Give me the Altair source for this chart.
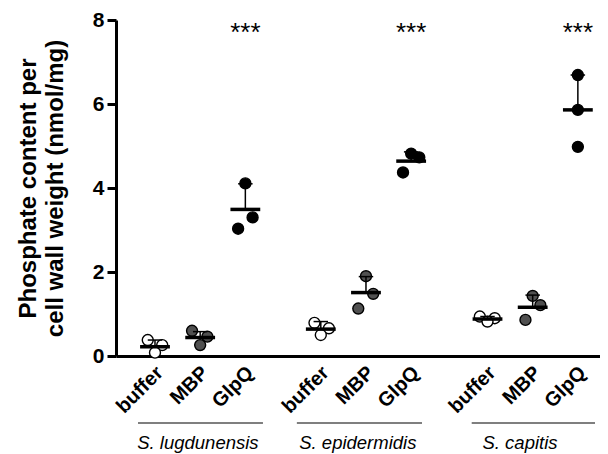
import altair as alt
import pandas as pd

# ---- data ----
positions = [0, 1, 2, 3.67, 4.67, 5.67, 7.36, 8.36, 9.36]
treatments = ["buffer", "MBP", "GlpQ"] * 3
species = ["S. lugdunensis"] * 3 + ["S. epidermidis"] * 3 + ["S. capitis"] * 3

rep_values = [
    [0.38, 0.26, 0.08],
    [0.60, 0.46, 0.26],
    [4.11, 3.30, 3.03],
    [0.79, 0.66, 0.50],
    [1.90, 1.48, 1.13],
    [4.82, 4.73, 4.37],
    [0.94, 0.90, 0.82],
    [1.43, 1.21, 0.86],
    [6.69, 5.86, 4.98],
]
rep_jitter = [
    [-0.16, 0.16, 0.0],
    [-0.18, 0.16, 0.0],
    [0.0, 0.16, -0.16],
    [-0.14, 0.18, 0.0],
    [0.0, 0.16, -0.17],
    [0.0, 0.18, -0.18],
    [-0.17, 0.16, 0.0],
    [0.0, 0.17, -0.16],
    [0.0, 0.0, 0.0],
]
means = [0.22, 0.44, 3.49, 0.64, 1.51, 4.64, 0.88, 1.16, 5.86]
upper = [0.38, 0.58, 4.10, 0.82, 1.89, 4.86, 0.94, 1.45, 6.69]
stars = ["", "", "***", "", "", "***", "", "", "***"]
star_level = 7.69
tick_label_level = -0.33
tick_label_angle = 315

group_names = ["S. lugdunensis", "S. epidermidis", "S. capitis"]
group_start = [-0.376, 3.14, 7.01]
group_end = [2.39, 5.91, 9.74]
group_label_x = [0.95, 4.49, 8.08]
group_line_level = -1.595
group_label_level = -2.07

y_ticks = [0, 2, 4, 6, 8]
y_title = ["Phosphate content per", "cell wall weight (nmol/mg)"]

# ---- tables ----
pts = pd.DataFrame(
    [
        {"x": positions[i] + rep_jitter[i][j], "value": rep_values[i][j],
         "treatment": treatments[i], "species": species[i]}
        for i in range(len(positions)) for j in range(3)
    ]
)
summ = pd.DataFrame({"pos": positions, "mean": means, "upper": upper,
                     "treatment": treatments, "stars": stars})
summ["star_y"] = star_level
summ["lab_y"] = tick_label_level
summ["lab_angle"] = tick_label_angle
grp = pd.DataFrame({"name": group_names, "start": group_start, "end": group_end,
                    "lx": group_label_x})
grp["line_y"] = group_line_level
grp["label_y"] = group_label_level

FONT = "Liberation Sans"
x_scale = alt.Scale(domain=[-0.863, 9.85], nice=False, zero=False)
y_scale = alt.Scale(domain=[0, 8], nice=False, zero=False)

x_axis = alt.Axis(
    values=positions, labels=False, ticks=False,
    domainWidth=3, domainColor="black", grid=False, title=None,
)
y_axis = alt.Axis(
    values=y_ticks, format="d", tickSize=9, tickWidth=3, tickColor="black",
    domainWidth=3, domainColor="black", labelFont=FONT, labelFontSize=21,
    labelFontWeight="bold", labelColor="black", labelPadding=3, grid=False,
    title=y_title, titleFont=FONT, titleFontSize=24, titleFontWeight="bold",
    titleColor="black", titlePadding=25, titleLineHeight=27,
)


def X(field):
    return alt.X(field, scale=x_scale, axis=x_axis)


def Y(field):
    return alt.Y(field, scale=y_scale, axis=y_axis)


points = alt.Chart(pts).mark_point(
    filled=True, shape="circle", size=120, stroke="black", strokeWidth=1.4, opacity=1
).encode(
    x=X("x:Q"),
    y=Y("value:Q"),
    fill=alt.Fill("treatment:N", scale=alt.Scale(domain=["buffer", "MBP", "GlpQ"],
                                                 range=["white", "#505050", "black"]),
                  legend=None),
)

errbar = alt.Chart(summ).mark_rule(strokeWidth=1.5, color="black").encode(
    x=X("pos:Q"), y=Y("mean:Q"), y2="upper:Q",
)

cap = alt.Chart(summ).transform_calculate(
    c1="datum.pos - 0.16", c2="datum.pos + 0.16"
).mark_rule(strokeWidth=1.5, color="black").encode(
    x=X("c1:Q"), x2="c2:Q", y=Y("upper:Q"),
)

meanline = alt.Chart(summ).transform_calculate(
    m1="datum.pos - 0.33", m2="datum.pos + 0.33"
).mark_rule(strokeWidth=3.5, color="black").encode(
    x=X("m1:Q"), x2="m2:Q", y=Y("mean:Q"),
)

star_text = alt.Chart(summ).mark_text(
    font=FONT, fontSize=26, baseline="middle", align="center", color="black"
).encode(
    x=X("pos:Q"), y=Y("star_y:Q"), text="stars:N",
)

tick_labels = alt.Chart(summ).transform_calculate(
    lx="datum.pos + 0.11"
).mark_text(
    font=FONT, fontSize=20, fontWeight="bold", align="right",
    baseline="middle", color="black"
).encode(
    x=X("lx:Q"), y=Y("lab_y:Q"), text="treatment:N",
    angle=alt.Angle("lab_angle:Q", scale=None),
)

grp_line = alt.Chart(grp).mark_rule(strokeWidth=1.2, color="black").encode(
    x=X("start:Q"), x2="end:Q", y=Y("line_y:Q"),
)

grp_label = alt.Chart(grp).mark_text(
    font=FONT, fontSize=18.5, fontStyle="italic", baseline="middle", align="center",
    color="black"
).encode(
    x=X("lx:Q"), y=Y("label_y:Q"), text="name:N",
)

chart = alt.layer(
    points, errbar, cap, meanline, star_text, tick_labels, grp_line, grp_label
).properties(
    width=484, height=336,
    padding={"left": 108, "top": 12, "right": 0, "bottom": 98},
    autosize=alt.AutoSizeParams(type="none"),
    background="white",
).configure_view(stroke=None)

chart.save("out.html", embed_options={"renderer": "svg", "actions": False})
